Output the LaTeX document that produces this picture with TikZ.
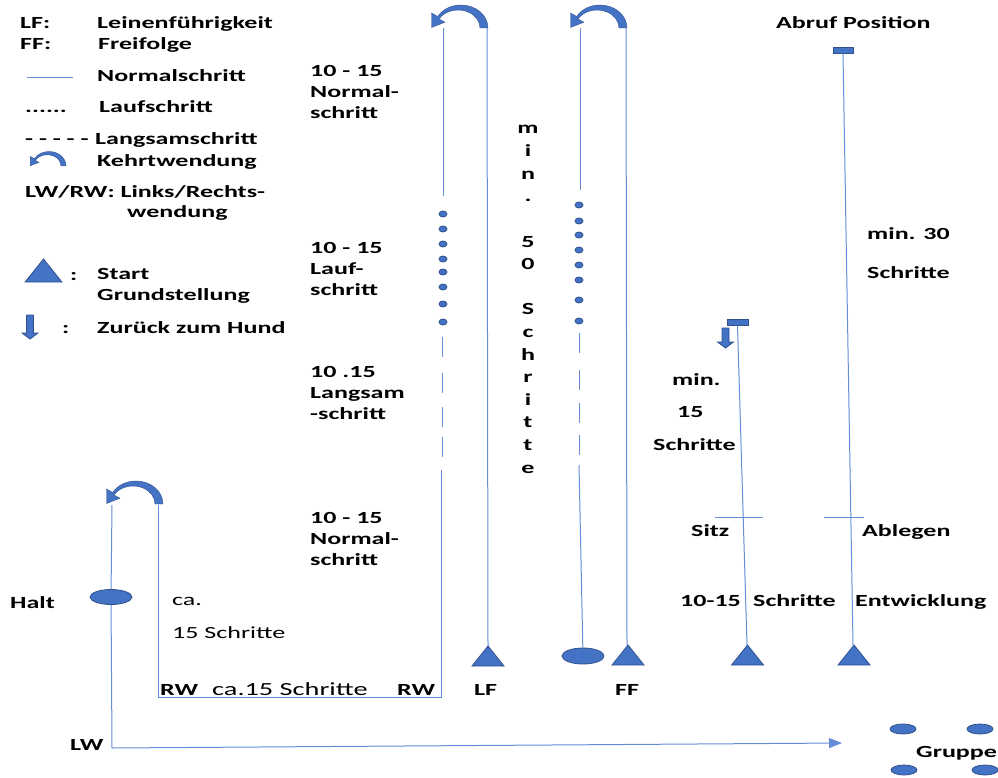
\documentclass[tikz,border=0pt]{standalone}
\usepackage{fontspec}
\setmainfont{Carlito}[FakeStretch=1.53]
\usepackage{tikz}
\usetikzlibrary{shapes.geometric}
\usetikzlibrary{arrows.meta}
\definecolor{lineblue}{RGB}{100,140,215}
\definecolor{shapeblue}{RGB}{68,114,196}
\definecolor{shapeedge}{RGB}{47,82,143}
\tikzset{walk/.style={draw=lineblue,line width=1pt},
  blob/.style={fill=shapeblue,draw=shapeedge,line width=0.8pt},
  disc/.style={blob,ellipse,inner sep=0pt,minimum width=26,minimum height=10},
  marker/.style={blob,rectangle,inner sep=0pt,minimum width=20,minimum height=6},
  txt/.style={anchor=base west,inner sep=0pt,align=left,font=\bfseries\fontsize{17}{21}\selectfont},
  thin txt/.style={txt,font=\mdseries\fontsize{17}{21}\selectfont}}
% Kehrtwendung: centre of base, scale
\newcommand{\kehrt}[2]{\fill[blob,line width=0.4pt,shift={(#1)},scale=#2] (27,0) arc[start angle=0,end angle=-150,x radius=27,y radius=23] -- (-29.5,-15) -- (-29.5,-0.5) -- (-16,-5.8) -- (-22.05,-9) arc[start angle=-150,end angle=0,x radius=22,y radius=18] -- cycle;}
% start triangle: apex
\newcommand{\starttri}[3][1]{\fill[blob,shift={(#2,#3)},scale=#1] (0,0) -- (16,20) -- (-16,20) -- cycle;}
% back to the dog: x, top, tip
\newcommand{\backarrow}[3]{\fill[blob] (#1-3.5,#2) -- (#1+3.5,#2) -- (#1+3.5,#3-6) -- (#1+8,#3-6) -- (#1,#3) -- (#1-8,#3-6) -- (#1-3.5,#3-6) -- cycle;}
\begin{document}
\begin{tikzpicture}[x=1pt,y=-1pt]
\useasboundingbox (0,0) rectangle (998,778);
% legend
\node[txt] (lfkey) at (20,29) {LF:};
\node[txt] (lftxt) at (97,29) {Leinenführigkeit};
\node[txt] (ffkey) at (20,50) {FF:};
\node[txt] (fftxt) at (98,50) {Freifolge};
\coordinate (n1) at (27,78);
\coordinate (n2) at (73,78);
\draw[walk] (n1) -- (n2);
\node[txt] (normtxt) at (97,82) {Normalschritt};
\node[txt] (laufkey) at (25,113) {......};
\node[txt] (lauftxt) at (99,113) {Laufschritt};
\node[txt] (langkey) at (25,145) {- - - - -};
\node[txt] (langtxt) at (95,145) {Langsamschritt};
\kehrt{49,166}{0.63}
\node[txt] (kehrtxt) at (97,167) {Kehrtwendung};
\node[txt] (lwrw) at (25,197) {LW/RW: Links/Rechts-};
\node[txt] (lwrw2) at (127,218) {wendung};
\starttri[1.15]{43.5}{259}
\node[txt] (colon1) at (70,280) {:};
\node[txt] (starttxt) at (97,300) {Start\\Grundstellung};
\backarrow{30}{315}{339}
\node[txt] (colon2) at (62,333) {:};
\node[txt] (backtxt) at (97,333) {Zurück zum Hund};
% section labels
\node[txt] (sec1) at (310,119) {10 - 15\\Normal-\\schritt};
\node[txt] (sec2) at (310,295) {10 - 15\\Lauf-\\schritt};
\node[txt] (sec3) at (310,419) {10 .15\\Langsam\\-schritt};
\node[txt] (sec4) at (310,565) {10 - 15\\Normal-\\schritt};
\foreach \c/\k in {m/0,i/1,n/2,./3,5/5,0/6,S/8,c/9,h/10,r/11,i/12,t/13,t/14,e/15}
  \node[txt,anchor=base] (v\k) at (528,134+22.6*\k) {\c};
% LF
\coordinate (lfapex) at (488,646);
\coordinate (lfup) at (487,28);
\coordinate (lfdown) at (443,28);
\coordinate (lfdots) at (443,196);
\coordinate (lfnorm) at (441,470);
\coordinate (rw2) at (441,697);
\coordinate (rw1) at (158,697);
\coordinate (loopup) at (158,505);
\coordinate (loopdown) at (112,505);
\coordinate (lw) at (112,748);
\coordinate (grp) at (842,743);
\node[disc,minimum width=42,minimum height=15] (halt) at (111,597) {};
\draw[walk] (lfapex) -- (lfup);
\draw[walk] (lfdown) -- (lfdots);
\foreach \y in {214,229,244,259,272,287,304,322}
  \node[disc,minimum width=8,minimum height=6] (lfdot\y) at (443,\y) {};
\foreach \a/\b in {337/357,373/393,407/427,437/457}
  \draw[walk] (442,\a) -- (442,\b);
\draw[walk] (lfnorm) -- (rw2) -- (rw1) -- (loopup);
\draw[walk] (loopdown) -- (halt);
\draw[walk,-{Triangle[length=13pt,width=10pt]}] (halt) -- (lw) -- (grp);
\kehrt{461,28}{1}
\kehrt{136,504}{1}
\starttri{488}{646}
% FF
\coordinate (ffapex) at (627,645);
\coordinate (ffup) at (626,28);
\coordinate (ffdown) at (580,28);
\coordinate (ffdots) at (580,190);
\coordinate (ffnorm) at (579,465);
\node[disc,minimum width=42,minimum height=16] (ffend) at (583,656) {};
\draw[walk] (ffapex) -- (ffup);
\draw[walk] (ffdown) -- (ffdots);
\foreach \y in {205,221,235,250,265,280,300,321}
  \node[disc,minimum width=8,minimum height=6] (ffdot\y) at (579,\y) {};
\foreach \a/\b in {333/353,370/390,403/423,435/455}
  \draw[walk] (579,\a) -- (579,\b);
\draw[walk] (ffnorm) -- (ffend);
\kehrt{600,28}{1}
\starttri{628}{645}
% Sitz
\node[marker,minimum width=21] (sitzpos) at (737.5,322) {};
\coordinate (sitzapex) at (747,645);
\draw[walk] (sitzpos.south) -- (sitzapex);
\draw[walk,line width=0.7pt] (715,517) -- (763,517);
\backarrow{725.5}{328}{348}
\starttri{747.5}{645}
% Abruf
\node[marker] (abrufpos) at (843,50) {};
\coordinate (abrufapex) at (853,645);
\draw[walk] (abrufpos.south) -- (abrufapex);
\draw[walk,line width=0.7pt] (824,517) -- (864,517);
\starttri{854}{645}
% texts
\node[txt] (abruftxt) at (776,29) {Abruf Position};
\node[txt] (min30) at (867,240) {min. 30};
\node[txt] (sch30) at (867,278) {Schritte};
\node[txt] (min15) at (672,385) {min.};
\node[txt] (num15) at (677,417) {15};
\node[txt] (sch15) at (653,450) {Schritte};
\node[txt] (sitz) at (691,536) {Sitz};
\node[txt] (ablegen) at (862,536) {Ablegen};
\node[txt] (dist) at (680,606) {10-15};
\node[txt] (distsch) at (753,606) {Schritte};
\node[txt] (entw) at (855,606) {Entwicklung};
\node[txt] (halttxt) at (10,608) {Halt};
\node[thin txt] (ca) at (172,605) {ca.};
\node[thin txt] (ca15) at (172,638) {15 Schritte};
\node[txt] (rw1txt) at (160,695) {RW};
\node[thin txt,font=\mdseries\fontsize{18.5}{21}\selectfont] (bottomtxt) at (212,695) {ca.15 Schritte};
\node[txt] (rw2txt) at (397,695) {RW};
\node[txt] (lftag) at (474,695) {LF};
\node[txt] (fftag) at (615,695) {FF};
\node[txt] (lwtxt) at (70,750) {LW};
% Gruppe
\node[disc] (g1) at (903,729) {};
\node[disc] (g2) at (980,729) {};
\node[disc] (g3) at (904,770) {};
\node[disc] (g4) at (985,770) {};
\node[txt] (gruppetxt) at (916,757) {Gruppe};
\end{tikzpicture}
\end{document}
